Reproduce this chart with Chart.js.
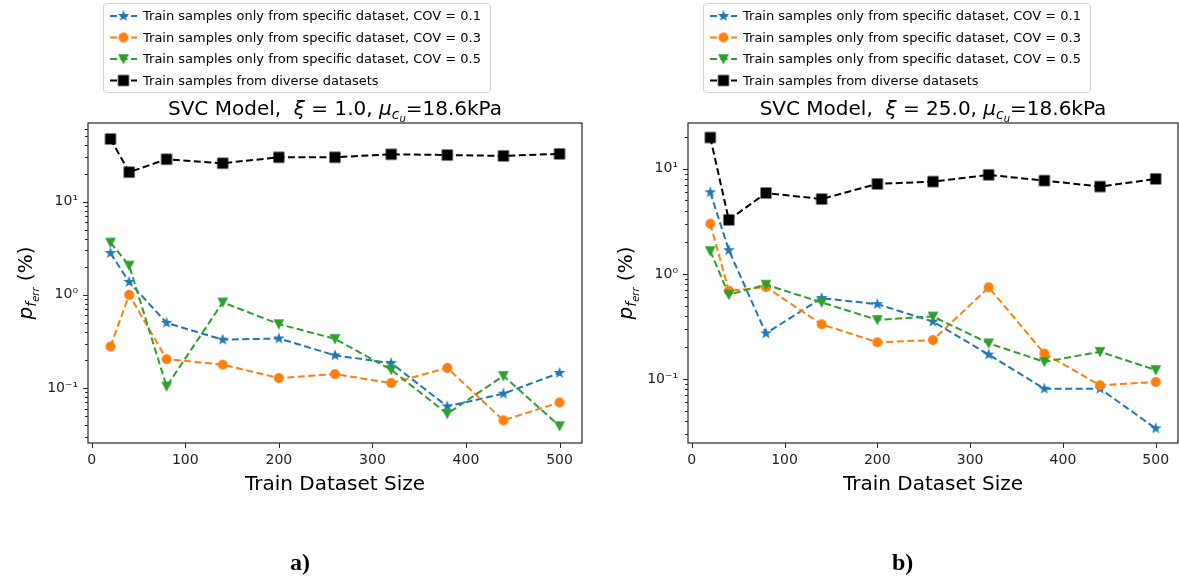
<!DOCTYPE html>
<html>
<head>
<meta charset="utf-8">
<script src="https://cdn.jsdelivr.net/npm/chart.js@4.4.1/dist/chart.umd.min.js"></script>
<style>
  body { margin: 0; background: #fff; width: 1179px; height: 583px; overflow: hidden; position: relative; }
  #chartA { position: absolute; left: 0; top: 0; }
  #chartB { position: absolute; left: 590px; top: 0; }
  .tag { position: absolute; top: 550px; font: bold 24px "Liberation Serif"; line-height: 24px; color: #000; }
</style>
</head>
<body>
<canvas id="chartA" width="590" height="583"></canvas>
<canvas id="chartB" width="596" height="583"></canvas>
<div class="tag" style="left:290px">a)</div>
<div class="tag" style="left:892px">b)</div>
<script>
// data
const trainSizes = [20, 40, 80, 140, 200, 260, 320, 380, 440, 500];

const cov01A   = [2.8, 1.37, 0.50, 0.33, 0.34, 0.224, 0.185, 0.0635, 0.087, 0.145];
const cov03A   = [0.279, 1.0, 0.204, 0.178, 0.128, 0.141, 0.113, 0.164, 0.045, 0.070];
const cov05A   = [3.64, 2.06, 0.104, 0.83, 0.485, 0.337, 0.157, 0.053, 0.135, 0.039];
const diverseA = [47, 20.7, 28.5, 25.8, 29.9, 29.9, 32.2, 31.6, 30.9, 32.5];

const cov01B   = [5.96, 1.68, 0.272, 0.589, 0.516, 0.352, 0.171, 0.081, 0.081, 0.034];
const cov03B   = [3.0, 0.69, 0.75, 0.332, 0.224, 0.235, 0.746, 0.175, 0.0875, 0.094];
const cov05B   = [1.65, 0.635, 0.79, 0.536, 0.366, 0.394, 0.219, 0.146, 0.182, 0.122];
const diverseB = [19.8, 3.26, 5.88, 5.15, 7.17, 7.54, 8.74, 7.71, 6.76, 8.0];

const seriesNames = [
  'Train samples only from specific dataset, COV = 0.1',
  'Train samples only from specific dataset, COV = 0.3',
  'Train samples only from specific dataset, COV = 0.5',
  'Train samples from diverse datasets'
];
const seriesColors = ['#1f77b4', '#ff7f0e', '#2ca02c', '#000000'];
const seriesMarkers = ['star', 'circle', 'tri', 'square'];

const xTicks = [0, 100, 200, 300, 400, 500];
const yTicks = [0.1, 1, 10];
const yTickLabels = ['10\u207B\u00B9', '10\u2070', '10\u00B9'];

const FONT = '"DejaVu Sans"';

function markerImage(kind, color) {
  const c = document.createElement('canvas');
  c.width = 14; c.height = 14;
  const g = c.getContext('2d');
  g.fillStyle = color;
  g.translate(7, 7);
  g.beginPath();
  if (kind === 'star') {
    for (let i = 0; i < 10; i++) {
      const r = i % 2 ? 2.4 : 6.2;
      const a = -Math.PI / 2 + i * Math.PI / 5;
      g.lineTo(r * Math.cos(a), r * Math.sin(a));
    }
  } else if (kind === 'circle') {
    g.arc(0, 0, 5, 0, 2 * Math.PI);
  } else if (kind === 'tri') {
    g.moveTo(-5.4, -4.8); g.lineTo(5.4, -4.8); g.lineTo(0, 5.4);
  } else {
    g.rect(-5.5, -5.5, 11, 11);
  }
  g.closePath();
  g.fill();
  return c;
}
const markerImgs = seriesMarkers.map((m, i) => markerImage(m, seriesColors[i]));

// draws a run of text pieces: [text, size, italic, dy]
function richText(ctx, parts, x, y, align) {
  const fontOf = p => (p[2] ? 'italic ' : '') + p[1] + 'px ' + FONT;
  let w = 0;
  parts.forEach(p => { ctx.font = fontOf(p); w += ctx.measureText(p[0]).width; });
  let cx = align === 'center' ? x - w / 2 : x;
  ctx.textAlign = 'left';
  parts.forEach(p => {
    ctx.font = fontOf(p);
    ctx.fillText(p[0], cx, y + (p[3] || 0));
    cx += ctx.measureText(p[0]).width;
  });
}

function makeChart(id, series, yMin, yMax, xiText, geom) {
  const decor = {
    id: 'decor',
    afterDraw(chart) {
      const ctx = chart.ctx, a = chart.chartArea;
      const xs = chart.scales.x, ys = chart.scales.y;
      ctx.save();
      // frame
      ctx.strokeStyle = '#262626';
      ctx.lineWidth = 1.2;
      ctx.strokeRect(a.left, a.top, a.right - a.left, a.bottom - a.top);
      // ticks
      ctx.lineWidth = 1;
      ctx.beginPath();
      xTicks.forEach(v => {
        const p = Math.round(xs.getPixelForValue(v)) + 0.5;
        ctx.moveTo(p, a.bottom); ctx.lineTo(p, a.bottom + 5);
      });
      for (let d = Math.floor(Math.log10(ys.min)); d <= Math.ceil(Math.log10(ys.max)); d++) {
        for (let k = 1; k <= 9; k++) {
          const v = k * Math.pow(10, d);
          if (v < ys.min || v > ys.max) continue;
          const p = Math.round(ys.getPixelForValue(v)) + 0.5;
          const len = k === 1 ? 5 : 3;
          ctx.moveTo(a.left - len, p); ctx.lineTo(a.left, p);
        }
      }
      ctx.stroke();

      // title
      ctx.fillStyle = '#000';
      ctx.textBaseline = 'alphabetic';
      const cx = (a.left + a.right) / 2;
      richText(ctx, [['SVC Model,  ', 20], ['\u03BE', 20, true], [' = ' + xiText + ', ', 20],
        ['\u03BC', 20, true], ['c', 14, true, 4], ['u', 10, true, 7], ['=18.6kPa', 20]], cx, 115, 'center');

      // x axis title
      richText(ctx, [['Train Dataset Size', 20]], cx, 490, 'center');

      // y axis title
      ctx.save();
      ctx.translate(a.left - 56, (a.top + a.bottom) / 2);
      ctx.rotate(-Math.PI / 2);
      richText(ctx, [['p', 20, true], ['f', 14, true, 4], ['err', 10, true, 7], [' (%)', 20]], 0, 0, 'center');
      ctx.restore();

      // legend
      const lx = geom.legendX, ly = 3, lw = 387, lh = 89;
      ctx.beginPath();
      ctx.roundRect(lx + 0.5, ly + 0.5, lw, lh, 3);
      ctx.fillStyle = 'rgba(255,255,255,0.85)';
      ctx.fill();
      ctx.strokeStyle = '#d4d4d4';
      ctx.lineWidth = 1;
      ctx.stroke();
      seriesNames.forEach((name, i) => {
        const cy = ly + 13 + i * 21.5;
        ctx.beginPath();
        ctx.setLineDash([7, 3.5]);
        ctx.strokeStyle = seriesColors[i];
        ctx.lineWidth = 2;
        ctx.moveTo(lx + 7, cy); ctx.lineTo(lx + 34, cy);
        ctx.stroke();
        ctx.setLineDash([]);
        ctx.drawImage(markerImgs[i], lx + 20.5 - 7, cy - 7);
        ctx.fillStyle = '#000';
        ctx.font = '13px ' + FONT;
        ctx.textBaseline = 'middle';
        ctx.fillText(name, lx + 40, cy + 1);
      });
      ctx.restore();
    }
  };

  return new Chart(document.getElementById(id), {
    type: 'line',
    data: {
      datasets: series.map((vals, i) => ({
        label: seriesNames[i],
        data: trainSizes.map((x, j) => ({ x: x, y: vals[j] })),
        borderColor: seriesColors[i],
        backgroundColor: seriesColors[i],
        borderWidth: 2,
        borderDash: [7, 3.5],
        pointStyle: markerImgs[i],
        pointRadius: 6,
        fill: false,
        tension: 0,
        order: 4 - i
      }))
    },
    options: {
      responsive: false,
      animation: false,
      devicePixelRatio: 1,
      layout: { padding: { left: 0, right: geom.padRight, top: 123, bottom: 0 } },
      plugins: {
        legend: { display: false },
        title: { display: false },
        tooltip: { enabled: false }
      },
      scales: {
        x: {
          type: 'linear',
          min: -4, max: 524,
          grid: { display: false, drawTicks: false },
          border: { display: false },
          afterBuildTicks: s => { s.ticks = xTicks.map(v => ({ value: v })); },
          afterFit: s => { s.height = 140; },
          ticks: { font: { family: 'DejaVu Sans', size: 14 }, color: '#222', padding: 9, maxRotation: 0, autoSkip: false }
        },
        y: {
          type: 'logarithmic',
          min: yMin, max: yMax,
          grid: { display: false, drawTicks: false },
          border: { display: false },
          afterBuildTicks: s => { s.ticks = yTicks.map(v => ({ value: v })); },
          afterFit: s => { s.width = geom.yWidth; },
          ticks: {
            font: { family: 'DejaVu Sans', size: 14 }, color: '#222', padding: 10, autoSkip: false,
            callback: v => { const k = yTicks.indexOf(v); return k < 0 ? '' : yTickLabels[k]; }
          }
        }
      }
    },
    plugins: [decor]
  });
}

makeChart('chartA', [cov01A, cov03A, cov05A, diverseA], 0.0257, 69.7, '1.0',
  { yWidth: 88, padRight: 8, legendX: 103 });
makeChart('chartB', [cov01B, cov03B, cov05B, diverseB], 0.0247, 27.2, '25.0',
  { yWidth: 98, padRight: 8, legendX: 113 });
</script>
</body>
</html>
